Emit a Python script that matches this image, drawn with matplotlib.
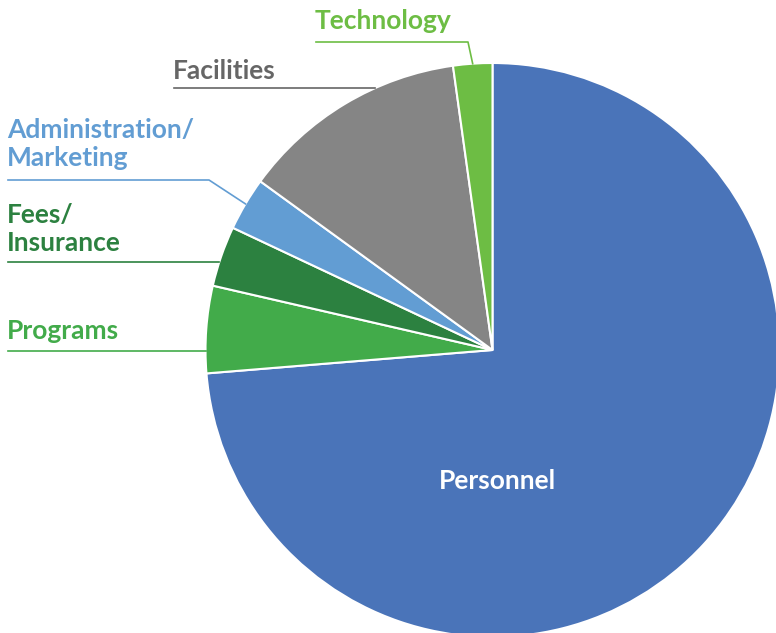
import numpy as np
import matplotlib

matplotlib.use('Agg')
import matplotlib.pyplot as plt

# Budget shares (percent), clockwise from 12 o'clock
categories = ['Personnel', 'Programs', 'Fees/\nInsurance', 'Administration/\nMarketing', 'Facilities', 'Technology']
values = [73.7, 4.9, 3.4, 3.0, 12.8, 2.2]
slice_colors = ['#4a74b9', '#42ab4a', '#2c8140', '#629dd3', '#858585', '#6dbd44']
label_colors = ['#ffffff', '#42ab4a', '#2c8140', '#629dd3', '#666666', '#6dbd44']

W, H = 776, 633
CX, CY, R = 492.5, H - 350, 287
FONT = 'Lato'
FSIZE = 19

fig = plt.figure(figsize=(W / 100, H / 100), dpi=100)
ax = fig.add_axes([0, 0, 1, 1])

wedges, _ = ax.pie(values, colors=slice_colors, startangle=90, counterclock=False,
                   center=(CX, CY), radius=R, frame=True,
                   wedgeprops=dict(edgecolor='white', linewidth=1.5))
ax.set_xlim(0, W)
ax.set_ylim(0, H)
ax.axis('off')


def rim_point(ang):
    a = np.radians(ang)
    return CX + R * np.cos(a), CY + R * np.sin(a)


def rim_x_at(y):
    return CX - np.sqrt(R ** 2 - (y - CY) ** 2)


def mid_angle(w):
    return (w.theta1 + w.theta2) / 2


def label(x, y, i):
    ax.text(x, y, categories[i], color=label_colors[i], fontsize=FSIZE, family=FONT,
            fontweight='bold', ha='left', va='center', linespacing=1.17)


# Personnel label inside
ax.text(497, H - 481, categories[0], color='white', fontsize=FSIZE, family=FONT,
        fontweight='bold', ha='center', va='center')

# Programs
y = H - 351
label(7, H - 331, 1)
ax.plot([8, rim_x_at(y)], [y, y], color=label_colors[1], lw=1.2)

# Fees / Insurance
y = H - 262
label(7, H - 229, 2)
ax.plot([8, rim_x_at(y)], [y, y], color=label_colors[2], lw=1.2)

# Administration / Marketing
y = H - 180
ex, ey = rim_point(mid_angle(wedges[3]))
label(7, H - 144, 3)
ax.plot([8, 209, ex], [y, y, ey], color=label_colors[3], lw=1.2)

# Facilities
y = H - 88
label(173, H - 71, 4)
ax.plot([174, rim_x_at(y)], [y, y], color=label_colors[4], lw=1.2)

# Technology
y = H - 42
ex, ey = rim_point(mid_angle(wedges[5]))
label(315, H - 21, 5)
ax.plot([316, 468, ex], [y, y, ey], color=label_colors[5], lw=1.2)

fig.savefig('out.png', dpi=100)
